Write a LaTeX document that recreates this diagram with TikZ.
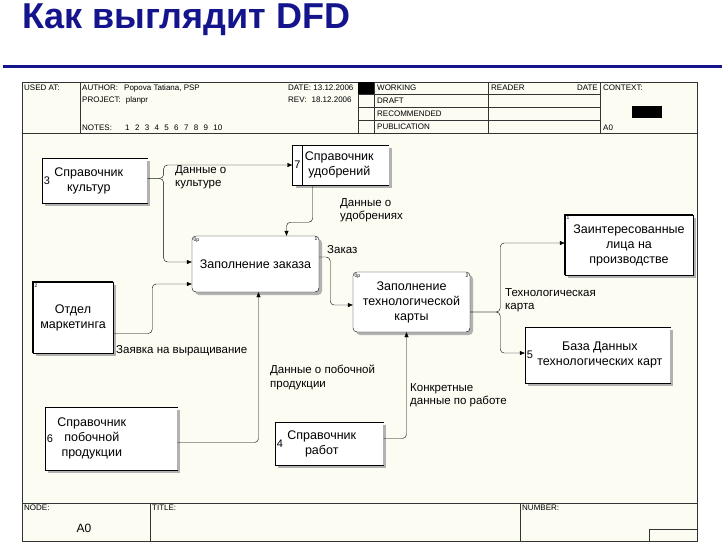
\documentclass[tikz,border=0pt]{standalone}
\usepackage{fontspec}
\setmainfont{Liberation Sans}
\usepackage{xcolor}
\usetikzlibrary{arrows.meta, positioning, shadows}
\definecolor{titleblue}{RGB}{20,20,140}
\definecolor{paper}{RGB}{252,252,243}

\begin{document}
\begin{tikzpicture}[x=1pt, y=-1pt, >={Triangle[length=5pt,width=4pt]}]
    \tikzset{
        shade/.style={drop shadow={shadow xshift=3pt, shadow yshift=-3pt, fill=black!30, opacity=1}},
        proc/.style={rectangle, draw, fill=white, rounded corners=4pt, shade, align=center, font=\fontsize{12.5}{15}\selectfont},
        extent/.style={rectangle, draw, fill=white, shade, align=center, font=\fontsize{12.5}{15}\selectfont},
        cell/.style={rectangle, draw, fill=white, shade, minimum width=10pt, inner sep=0pt, font=\fontsize{11}{12}\selectfont},
        store/.style={rectangle, fill=white, shade, inner sep=0pt},
        stext/.style={anchor=west, align=center, inner sep=2pt, font=\fontsize{12.5}{15}\selectfont},
        tag/.style={font=\fontsize{5}{6}\selectfont, inner sep=1.5pt},
        lbl/.style={align=left, inner sep=0pt, font=\fontsize{11.5}{13.5}\selectfont},
        hdr/.style={anchor=west, inner sep=0pt, font=\fontsize{8}{9}\selectfont},
        line/.style={draw, ->, rounded corners=4pt}
    }
    \useasboundingbox (0,0) rectangle (722,550);

    % title
    \node (title) [anchor=base west, inner sep=0pt, text=titleblue, font=\fontsize{36}{40}\selectfont\bfseries] at (22,28) {Как выглядит DFD};
    \draw [titleblue, line width=3pt] (3,66.5) -- (722,66.5);

    % form
    \fill [paper] (22,82) rectangle (697,541);
    \draw [black!80, line width=0.8pt] (22,82) rectangle (697,541);
    \draw [black!80, line width=0.8pt] (22,133) -- (697,133) (22,503) -- (697,503);
    \draw [black!80, line width=0.8pt] (80,82) -- (80,133) (358,82) -- (358,133) (374,82) -- (374,133)
        (488,82) -- (488,133) (600,82) -- (600,133);
    \foreach \y in {94,107,120} \draw [black!80, line width=0.8pt] (358,\y) -- (600,\y);
    \draw [black!80, line width=0.8pt] (150,503) -- (150,541) (520,503) -- (520,541) (649,541) |- (697,529);
    \fill (358,82) rectangle (374,94);
    \fill (632,106) rectangle (662,118);

    \node (hUsed) [hdr] at (24,88) {USED AT:};
    \node (hAuthor) [hdr] at (82,88) {AUTHOR:\hspace{6pt}Popova Tatiana, PSP};
    \node (hProject) [hdr] at (82,100) {PROJECT:\hspace{5pt}planpr};
    \node (hNotes) [hdr] at (82,128) {NOTES:};
    \foreach \n in {1,...,10}
        \node (hN\n) [hdr] at (125+9.8*\n-9.8,128) {\n};
    \node (hDate) [hdr] at (288,88) {DATE: 13.12.2006};
    \node (hRev) [hdr] at (288,100) {REV:\hspace{5pt}18.12.2006};
    \node (hWork) [hdr] at (377,88) {WORKING};
    \node (hDraft) [hdr] at (377,101) {DRAFT};
    \node (hRec) [hdr] at (377,114) {RECOMMENDED};
    \node (hPub) [hdr] at (377,127) {PUBLICATION};
    \node (hReader) [hdr] at (491,88) {READER};
    \node (hRDate) [hdr, anchor=east] at (598,88) {DATE};
    \node (hContext) [hdr] at (603,88) {CONTEXT:};
    \node (hCtxNode) [hdr] at (603,128) {A0};
    \node (fNode) [hdr] at (24,508) {NODE:};
    \node (fTitle) [hdr] at (152,508) {TITLE:};
    \node (fNumber) [hdr] at (522,508) {NUMBER:};
    \node (fA0) [font=\fontsize{12}{14}\selectfont] at (84,528) {A0};

    % processes
    \node (P1) [proc, minimum width=127pt, minimum height=56pt,
        label={[tag, anchor=north west]north west:0р}, label={[tag, anchor=north east]north east:1}] at (255.5,264) {Заполнение заказа};
    \node (P2) [proc, minimum width=117pt, minimum height=60pt,
        label={[tag, anchor=north west]north west:0р}, label={[tag, anchor=north east]north east:2}] at (411.5,302) {Заполнение\\технологической\\карты};

    % external entities
    \node (E2) [extent, minimum width=80pt, minimum height=71pt,
        label={[tag, anchor=north west]north west:2}] at (73,317.5) {Отдел\\маркетинга};
    \node (E1) [extent, minimum width=128pt, minimum height=60pt,
        label={[tag, anchor=north west]north west:1}] at (629,245) {Заинтересованные\\лица на\\производстве};
    \foreach \e in {E1,E2}
        \draw [line width=1.6pt] (\e.south west) -- (\e.north west) -- (\e.north east);

    % data stores
    \node (C3) [cell, minimum height=45pt] at (47,180.5) {3};
    \node (S3) [store, minimum width=95pt, minimum height=45pt, right=0pt of C3,
        label={[stext]west:Справочник\\культур}] {};
    \node (C7) [cell, minimum height=40pt] at (297.5,165) {7};
    \node (S7) [store, minimum width=86pt, minimum height=40pt, right=0pt of C7,
        label={[stext]west:Справочник\\удобрений}] {};
    \node (C6) [cell, minimum height=63pt] at (50,438.5) {6};
    \node (S6) [store, minimum width=122pt, minimum height=63pt, right=0pt of C6,
        label={[stext]west:Справочник\\побочной\\продукции}] {};
    \node (C4) [cell, minimum height=43pt] at (280,443.5) {4};
    \node (S4) [store, minimum width=98pt, minimum height=43pt, right=0pt of C4,
        label={[stext]west:Справочник\\работ}] {};
    \node (C5) [cell, minimum height=56pt] at (530,355) {5};
    \node (S5) [store, minimum width=135pt, minimum height=56pt, right=0pt of C5,
        label={[stext]west:База Данных\\технологических карт}] {};
    \foreach \s in {S3,S7,S6,S4,S5}
        \draw (\s.north west) -- (\s.north east) (\s.south west) -- (\s.south east);

    % flows
    \path [line] ([yshift=2pt]S3.east) -- ++(16,0) |- (C7.west);
    \path [line] ([yshift=2pt]S3.east) -- ++(16,0) |- ([yshift=2pt]P1.west);
    \path [line] ([xshift=10pt]S7.south west) -- ++(0,37) -| ([xshift=31pt]P1.north);
    \path [line] ([yshift=-16pt]E2.east) -- ++(39,0) |- ([yshift=-20pt]P1.west);
    \path [line] ([yshift=7pt]P1.east) -- ++(11,0) |- ([yshift=-3pt]P2.west);
    \path [line] ([yshift=-4pt]S6.east) -| ([xshift=3pt]P1.south);
    \path [line] ([yshift=5pt]S4.east) -| ([xshift=-5pt]P2.south);
    \path [line] ([yshift=-10pt]P2.east) -- ++(30,0) |- ([yshift=2pt]E1.west);
    \path [line] ([yshift=-10pt]P2.east) -- ++(30,0) |- ([yshift=2pt]C5.west);

    % flow labels
    \node (LKult) [lbl, anchor=north west] at (175,165) {Данные о\\культуре};
    \node (LUdob) [lbl, anchor=north west] at (340,198) {Данные о\\удобрениях};
    \node (LZakaz) [lbl, anchor=west] at (327,250) {Заказ};
    \node (LZayav) [lbl, anchor=west] at (116,351) {Заявка на выращивание};
    \node (LPob) [lbl, anchor=north west] at (270,365) {Данные о побочной\\продукции};
    \node (LRab) [lbl, anchor=north west] at (410,383) {Конкретные\\данные по работе};
    \node (LTech) [lbl, anchor=north west] at (505,288) {Технологическая\\карта};

\end{tikzpicture}
\end{document}
